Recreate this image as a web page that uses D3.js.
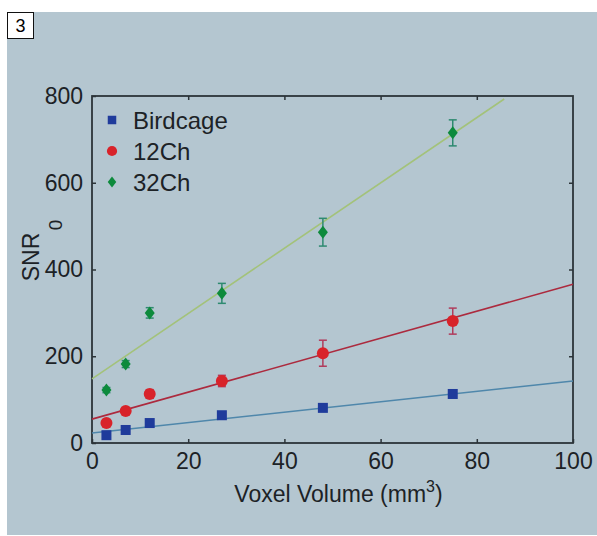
<!DOCTYPE html>
<html>
<head>
<meta charset="utf-8">
<script src="https://cdn.jsdelivr.net/npm/d3@7"></script>
<style>
  body { margin: 0; background: #fff; }
  text { font-family: "Liberation Sans", Arial, sans-serif; fill: #1c2226; }
</style>
</head>
<body>
<svg id="chart" width="597" height="536"></svg>
<script>

// data
var volumes = [3, 7, 12, 27, 48, 75];
var seriesNames = ["Birdcage", "12Ch", "32Ch"];
var birdcage = [18, 30, 46, 64, 81, 113];
var birdcageErr = [3, 3, 4, 4, 5, 5];
var ch12 = [46, 74, 113, 143, 207, 281];
var ch12Err = [5, 6, 10, 13, 30, 30];
var ch32 = [122, 182, 300, 345, 486, 715];
var ch32Err = [6, 8, 12, 23, 32, 30];

// fitted lines, [x0, y0, x1, y1]
var fitBirdcage = [0, 23, 100, 143];
var fitCh12 = [0, 55, 100, 366];
var fitCh32 = [0, 148, 85.7, 793];

var xTicks = [0, 20, 40, 60, 80, 100];
var yTicks = [0, 200, 400, 600, 800];

var series = [
  {name: seriesNames[0], y: birdcage, err: birdcageErr, fit: fitBirdcage,
   mark: "#1f3b9b", line: "#4f87ab", bar: "#2a4a9a", shape: "square"},
  {name: seriesNames[1], y: ch12, err: ch12Err, fit: fitCh12,
   mark: "#d8232a", line: "#ac2a3e", bar: "#b03c5c", shape: "circle"},
  {name: seriesNames[2], y: ch32, err: ch32Err, fit: fitCh32,
   mark: "#0d8a3c", line: "#a3c27a", bar: "#2e8a70", shape: "diamond"}
];

var svg = d3.select("#chart");

// panel background
svg.append("rect")
  .attr("x", 7).attr("y", 12)
  .attr("width", 590).attr("height", 523)
  .attr("fill", "#b4c6d0");

// figure number box
svg.append("rect")
  .attr("x", 7.5).attr("y", 12.5)
  .attr("width", 26).attr("height", 26)
  .attr("fill", "#fff").attr("stroke", "#111").attr("stroke-width", 1);
svg.append("text")
  .attr("x", 20.5).attr("y", 32)
  .attr("text-anchor", "middle")
  .style("font-size", "18px").style("fill", "#000")
  .text("3");

var margin = {top: 96, left: 92, right: 24, bottom: 93};
var width = 597 - margin.left - margin.right,
    height = 536 - margin.top - margin.bottom;

var g = svg.append("g").attr("transform", "translate(" + margin.left + "," + margin.top + ")");

// scales
var x = d3.scaleLinear().domain([0, 100]).range([0, width]);
var y = d3.scaleLinear().domain([0, 800]).range([height, 0]);

// axes, ticks pointing inwards on all four sides
var axisColor = "#2c3439";

function styleAxis(sel) {
  sel.select(".domain").remove();
  sel.selectAll(".tick line").attr("stroke", axisColor).attr("stroke-width", 1.5);
  sel.selectAll(".tick text").style("font-size", "23px").style("fill", "#1c2226");
}

g.append("g")
  .attr("transform", "translate(0," + height + ")")
  .call(d3.axisBottom(x).tickValues(xTicks).tickSizeInner(-4).tickPadding(10).tickFormat(d3.format("d")))
  .call(styleAxis);

g.append("g")
  .call(d3.axisLeft(y).tickValues(yTicks).tickSizeInner(-4).tickPadding(9).tickFormat(d3.format("d")))
  .call(styleAxis);

g.append("g")
  .call(d3.axisTop(x).tickValues(xTicks.slice(1, -1)).tickSizeInner(-4).tickFormat(""))
  .call(styleAxis);

g.append("g")
  .attr("transform", "translate(" + width + ",0)")
  .call(d3.axisRight(y).tickValues(yTicks.slice(1, -1)).tickSizeInner(-4).tickFormat(""))
  .call(styleAxis);

// frame
g.append("rect")
  .attr("width", width).attr("height", height)
  .attr("fill", "none").attr("stroke", axisColor).attr("stroke-width", 1.8);

// axis titles
var xt = svg.append("text")
  .attr("x", margin.left + width / 2 + 6).attr("y", 502)
  .attr("text-anchor", "middle")
  .style("font-size", "23px");
xt.append("tspan").text("Voxel Volume (mm");
xt.append("tspan").attr("dy", -10).style("font-size", "16px").text("3");
xt.append("tspan").attr("dy", 10).text(")");

svg.append("text")
  .attr("transform", "translate(39,257)rotate(-90)")
  .attr("text-anchor", "middle")
  .style("font-size", "23px")
  .text("SNR");
svg.append("text")
  .attr("transform", "translate(62,225)rotate(-90)")
  .attr("text-anchor", "middle")
  .style("font-size", "19px")
  .text("0");

// fit lines
var plot = g.append("g");

plot.selectAll("line.fit")
  .data(series)
  .enter().append("line")
  .attr("class", "fit")
  .attr("x1", function(d) { return x(d.fit[0]); })
  .attr("y1", function(d) { return y(d.fit[1]); })
  .attr("x2", function(d) { return x(d.fit[2]); })
  .attr("y2", function(d) { return y(d.fit[3]); })
  .attr("stroke", function(d) { return d.line; })
  .attr("stroke-width", 1.6);

// markers
function drawMark(sel, shape, color) {
  if (shape == "square") {
    sel.append("rect").attr("x", -5).attr("y", -5).attr("width", 10).attr("height", 10).attr("fill", color);
  } else if (shape == "circle") {
    sel.append("circle").attr("r", 6).attr("fill", color);
  } else {
    sel.append("path").attr("d", "M0,-6.5L5,0L0,6.5L-5,0Z").attr("fill", color);
  }
}

series.forEach(function(s) {
  var pts = volumes.map(function(v, i) { return {x: v, y: s.y[i], e: s.err[i]}; });

  // error bars
  var bars = plot.append("g")
    .attr("stroke", s.bar).attr("stroke-width", 1.5);

  bars.selectAll("line.stem")
    .data(pts)
    .enter().append("line")
    .attr("x1", function(d) { return x(d.x); })
    .attr("x2", function(d) { return x(d.x); })
    .attr("y1", function(d) { return y(d.y - d.e); })
    .attr("y2", function(d) { return y(d.y + d.e); });

  [-1, 1].forEach(function(sign) {
    bars.selectAll("line.cap" + sign)
      .data(pts)
      .enter().append("line")
      .attr("x1", function(d) { return x(d.x) - 4; })
      .attr("x2", function(d) { return x(d.x) + 4; })
      .attr("y1", function(d) { return y(d.y + sign * d.e); })
      .attr("y2", function(d) { return y(d.y + sign * d.e); });
  });

  plot.selectAll(null)
    .data(pts)
    .enter().append("g")
    .attr("transform", function(d) { return "translate(" + x(d.x) + "," + y(d.y) + ")"; })
    .each(function() { drawMark(d3.select(this), s.shape, s.mark); });
});

// legend, smaller marks than the plot
var legend = g.append("g").attr("transform", "translate(20,24)");

series.forEach(function(s, i) {
  var row = legend.append("g").attr("transform", "translate(0," + (i * 31) + ")");
  drawMark(row.append("g").attr("transform", "scale(0.85)"), s.shape, s.mark);
  row.append("text")
    .attr("x", 21).attr("dy", "0.36em")
    .style("font-size", "24px")
    .text(s.name);
});

</script>
</body>
</html>
